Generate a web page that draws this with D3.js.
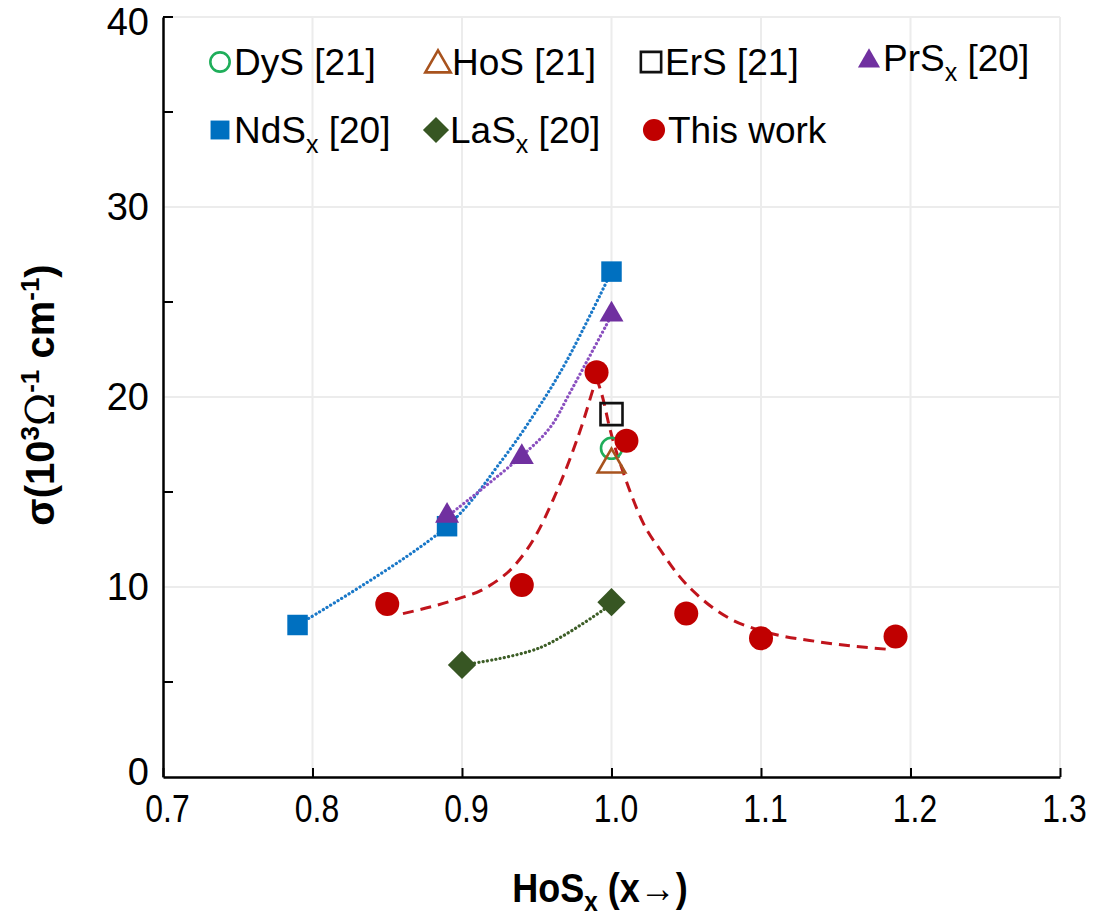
<!DOCTYPE html>
<html>
<head>
<meta charset="utf-8">
<script src="https://cdn.jsdelivr.net/npm/d3@7"></script>
<style>
  body { margin: 0; background: #fff; }
  svg { display: block; font-family: "Liberation Sans", Arial, sans-serif; }
</style>
</head>
<body>
<div id="chart"></div>
<script>
// measured points [x, sigma]
const ndsData = [[0.79, 8.0], [0.89, 13.2], [1.0, 26.6]];
const prsData = [[0.89, 13.9], [0.94, 17.0], [1.0, 24.5]];
const lasData = [[0.9, 5.9], [1.0, 9.2]];
const thisWork = [[0.85, 9.1], [0.94, 10.1], [0.99, 21.3], [1.01, 17.7], [1.05, 8.6], [1.1, 7.3], [1.19, 7.4]];
const dysData = [[1.0, 17.3]];
const hosData = [[1.0, 16.6]];
const ersData = [[1.0, 19.1]];

// fitted guide lines
const ndsFit = [[0.79, 8.0], [0.89, 13.2], [0.927, 16.7], [0.95, 19.3], [0.97, 21.9], [1.0, 26.6]];
const prsFit = [[0.89, 13.7], [0.94, 16.9], [0.959, 18.4], [0.972, 20.2], [1.0, 24.3]];
const lasFit = [[0.9, 5.9], [0.952, 6.8], [1.0, 9.1]];
const redFitLeft = [[0.8605, 8.6], [0.894, 9.3], [0.917, 10.0], [0.937, 11.3], [0.95, 12.8],
                    [0.961, 14.6], [0.972, 16.7], [0.981, 18.7], [0.988, 20.5], [0.990, 21.0]];
const redFitRight = [[0.990, 21.0], [0.994, 20.0], [0.999, 18.3], [1.008, 16.0], [1.014, 14.7],
                     [1.021, 13.4], [1.034, 11.8], [1.045, 10.6], [1.06, 9.4], [1.08, 8.3],
                     [1.10, 7.7], [1.14, 7.1], [1.188, 6.7]];

const xTicks = [0.7, 0.8, 0.9, 1.0, 1.1, 1.2, 1.3];
const yTicks = [0, 10, 20, 30, 40];
const yMinor = [5, 15, 25, 35, 40];

const width = 1106, height = 920;
const margin = {left: 163, top: 17, right: 46, bottom: 143};

const svg = d3.select("#chart").append("svg")
    .attr("width", width)
    .attr("height", height);

const x = d3.scaleLinear().domain([0.7, 1.3]).range([margin.left, width - margin.right]);
const y = d3.scaleLinear().domain([0, 40]).range([height - margin.bottom, margin.top]);

// grid
svg.append("g").selectAll("line.gx")
    .data(xTicks.slice(1))
    .join("line")
    .attr("x1", d => x(d)).attr("x2", d => x(d))
    .attr("y1", y(0)).attr("y2", y(40))
    .attr("stroke", "#ececec").attr("stroke-width", 2);
svg.append("g").selectAll("line.gy")
    .data(yTicks.slice(1))
    .join("line")
    .attr("y1", d => y(d)).attr("y2", d => y(d))
    .attr("x1", x(0.7)).attr("x2", x(1.3))
    .attr("stroke", "#ececec").attr("stroke-width", 2);

// axes
const xAxis = svg.append("g")
    .attr("transform", `translate(0,${y(0)})`)
    .call(d3.axisBottom(x).tickValues(xTicks).tickFormat(d3.format(".1f")).tickSizeInner(-9).tickSizeOuter(0).tickPadding(18));
xAxis.select(".domain").attr("stroke", "#000").attr("stroke-width", 2.5);
xAxis.selectAll(".tick line").attr("stroke", "#000").attr("stroke-width", 2);
xAxis.selectAll(".tick text")
    .attr("font-size", 38)
    .attr("transform", "translate(4,0) scale(0.84,1)")
    .attr("fill", "#000");

const yAxis = svg.append("g")
    .attr("transform", `translate(${x(0.7)},0)`)
    .call(d3.axisLeft(y).tickValues(yTicks).tickSize(0).tickPadding(14));
yAxis.select(".domain").attr("stroke", "#000").attr("stroke-width", 2.5);
yAxis.selectAll(".tick text").attr("font-size", 38).attr("fill", "#000");
yAxis.selectAll(".tick text").filter(d => d === 0).attr("dy", "0.2em");
yAxis.selectAll(".tick text").filter(d => d === 40).attr("dy", "0.45em");
yAxis.selectAll("line.minor")
    .data(yMinor)
    .join("line")
    .attr("class", "minor")
    .attr("x1", 0).attr("x2", 10)
    .attr("y1", d => y(d)).attr("y2", d => y(d))
    .attr("stroke", "#000").attr("stroke-width", 2);

// fitted lines
const fits = [
    {data: ndsFit, color: "#1a78c8", dash: "0.1,4.2", w: 3.2, curve: d3.curveCatmullRom},
    {data: prsFit, color: "#8a4fbf", dash: "0.1,4.2", w: 3.2, curve: d3.curveCatmullRom},
    {data: lasFit, color: "#3d5e27", dash: "0.1,4.2", w: 3.2, curve: d3.curveCatmullRom},
    {data: redFitLeft, color: "#c0141c", dash: "11,7", w: 3, curve: d3.curveMonotoneX},
    {data: redFitRight, color: "#c0141c", dash: "11,7", w: 3, curve: d3.curveMonotoneX}
];
svg.append("g").selectAll("path")
    .data(fits)
    .join("path")
    .attr("d", d => d3.line().x(p => x(p[0])).y(p => y(p[1])).curve(d.curve)(d.data))
    .attr("fill", "none")
    .attr("stroke", d => d.color)
    .attr("stroke-width", d => d.w)
    .attr("stroke-dasharray", d => d.dash)
    .attr("stroke-linecap", d => d.dash.startsWith("0.1") ? "round" : "butt");

// marker shapes
const symSquare = d3.symbol().type(d3.symbolSquare);
const symTri = d3.symbol().type(d3.symbolTriangle);

const series = [
    {name: "DyS", ref: "[21]", sub: "", data: dysData, type: "circle", size: 10.5, fill: "none", stroke: "#1fae5a", sw: 2.6},
    {name: "HoS", ref: "[21]", sub: "", data: hosData, type: "tri", size: 330, fill: "none", stroke: "#a8531e", sw: 2.6},
    {name: "ErS", ref: "[21]", sub: "", data: ersData, type: "square", size: 484, fill: "none", stroke: "#111", sw: 2.6},
    {name: "PrS", ref: "[20]", sub: "x", data: prsData, type: "tri", size: 250, fill: "#7030a0", stroke: "none", sw: 0},
    {name: "NdS", ref: "[20]", sub: "x", data: ndsData, type: "square", size: 420, fill: "#0070c0", stroke: "none", sw: 0},
    {name: "LaS", ref: "[20]", sub: "x", data: lasData, type: "diamond", size: 400, fill: "#375623", stroke: "none", sw: 0},
    {name: "This work", ref: "", sub: "", data: thisWork, type: "circle", size: 12, fill: "#c00000", stroke: "none", sw: 0}
];

function drawMark(sel, s) {
    if (s.type === "circle") {
        sel.append("circle").attr("r", s.size);
    } else if (s.type === "square") {
        sel.append("path").attr("d", symSquare.size(s.size)());
    } else if (s.type === "tri") {
        sel.append("path").attr("d", symTri.size(s.size)()).attr("transform", "translate(0,3)");
    } else {
        sel.append("path").attr("d", symSquare.size(s.size)()).attr("transform", "rotate(45)");
    }
    sel.selectAll("circle,path")
        .attr("fill", s.fill)
        .attr("stroke", s.stroke)
        .attr("stroke-width", s.sw);
}

// draw order: reference points first, this work on top of fits
const order = ["NdS", "PrS", "LaS", "DyS", "HoS", "This work", "ErS"];
order.forEach(n => {
    const s = series.find(d => d.name === n);
    svg.append("g").selectAll("g")
        .data(s.data)
        .join("g")
        .attr("transform", d => `translate(${x(d[0])},${y(d[1])})`)
        .each(function() { drawMark(d3.select(this), s); });
});

// legend
const legendPos = [[220, 62], [438, 62], [651, 62], [869, 58], [220, 130], [436, 130], [654, 130]];
const legend = svg.append("g").attr("font-size", 37);
series.forEach((s, i) => {
    const g = legend.append("g").attr("transform", `translate(${legendPos[i][0]},${legendPos[i][1]})`);
    const ls = Object.assign({}, s, {size: s.type === "circle" ? s.size * 0.92 : s.size * 0.85});
    drawMark(g.append("g"), ls);
    const t = g.append("text").attr("x", 14).attr("y", 13).attr("fill", "#000");
    t.append("tspan").text(s.name);
    if (s.sub) {
        t.append("tspan").attr("font-size", 25).attr("dy", 10).text(s.sub);
        t.append("tspan").attr("dy", -10).text(" " + s.ref);
    } else if (s.ref) {
        t.append("tspan").text(" " + s.ref);
    }
});

// axis titles
const xt = svg.append("text")
    .attr("transform", "translate(600,902) scale(0.9,1)")
    .attr("text-anchor", "middle")
    .attr("font-size", 40).attr("font-weight", "bold");
xt.append("tspan").text("HoS");
xt.append("tspan").attr("font-size", 27).attr("dy", 9).text("x");
xt.append("tspan").attr("dy", -9).text(" (x→)");

const yt = svg.append("text")
    .attr("transform", `translate(54,395) rotate(-90)`)
    .attr("text-anchor", "middle")
    .attr("font-size", 40).attr("font-weight", "bold");
yt.append("tspan").text("σ(10");
yt.append("tspan").attr("font-size", 26).attr("dy", -15).text("3");
yt.append("tspan").attr("dy", 15).attr("font-weight", "normal").attr("font-family", "'DejaVu Serif', serif").text("Ω");
yt.append("tspan").attr("font-size", 26).attr("dy", -15).text("-1");
yt.append("tspan").attr("dy", 15).text(" cm");
yt.append("tspan").attr("font-size", 26).attr("dy", -15).text("-1");
yt.append("tspan").attr("dy", 15).text(")");
</script>
</body>
</html>
